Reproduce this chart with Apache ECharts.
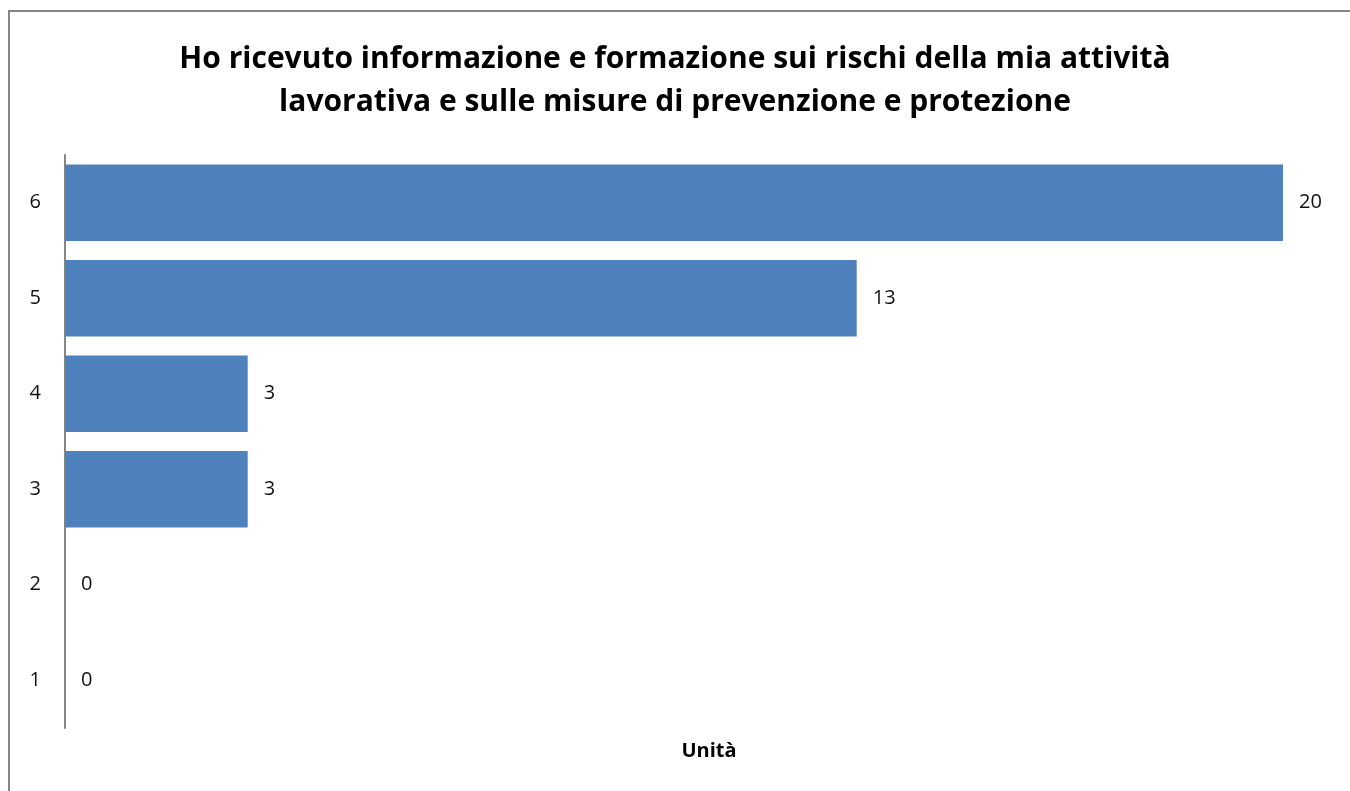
<!DOCTYPE html>
<html>
<head>
<meta charset="utf-8">
<script src="https://cdn.jsdelivr.net/npm/echarts@6/dist/echarts.min.js"></script>
<style>
  html, body { margin: 0; padding: 0; background: #fff; }
  #chart { width: 1350px; height: 791px; }
</style>
</head>
<body>
<div id="chart"></div>
<script>
// Risposte per livello di accordo (1–6)
const categories = ['1', '2', '3', '4', '5', '6'];
const values = [0, 0, 3, 3, 13, 20];
const titleText = 'Ho ricevuto informazione e formazione sui rischi della mia attività\nlavorativa e sulle misure di prevenzione e protezione';
const axisTitle = 'Unità';

const chart = echarts.init(document.getElementById('chart'), null, { renderer: 'canvas' });

chart.setOption({
  backgroundColor: '#ffffff',
  animation: false,
  title: [
    {
      text: titleText,
      left: 'center',
      top: 33,
      textStyle: {
        fontFamily: 'Open Sans',
        fontWeight: 'bold',
        fontSize: 30,
        lineHeight: 43,
        color: '#000'
      }
    },
    {
      text: axisTitle,
      left: 704,
      top: 736,
      textAlign: 'center',
      textStyle: {
        fontFamily: 'Open Sans',
        fontWeight: 'bold',
        fontSize: 20,
        color: '#000'
      }
    }
  ],
  graphic: [
    {
      type: 'rect',
      shape: { x: 9, y: 11, width: 2000, height: 2000 },
      style: { fill: 'none', stroke: '#868686', lineWidth: 2 },
      silent: true
    }
  ],
  grid: {
    left: 65,
    right: 67,
    top: 155,
    bottom: 63,
    containLabel: false
  },
  xAxis: {
    type: 'value',
    min: 0,
    max: 20,
    show: false
  },
  yAxis: {
    type: 'category',
    data: categories,
    axisLine: { show: true, lineStyle: { color: '#868686', width: 2 } },
    axisTick: { show: false },
    axisLabel: {
      margin: 24,
      fontFamily: 'Open Sans',
      fontSize: 20,
      color: '#111'
    }
  },
  series: [
    {
      type: 'bar',
      data: values,
      barCategoryGap: '20%',
      itemStyle: { color: '#4F81BD' },
      label: {
        show: true,
        position: 'right',
        distance: 16,
        fontFamily: 'Open Sans',
        fontSize: 20,
        color: '#111'
      }
    }
  ]
});
</script>
</body>
</html>
